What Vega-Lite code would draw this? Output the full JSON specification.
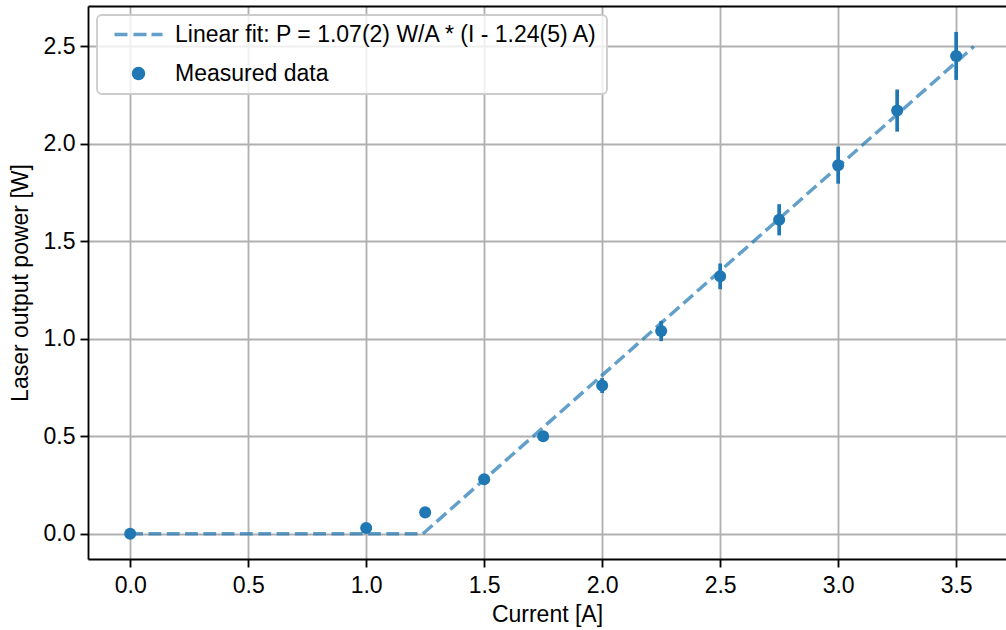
{
  "$schema": "https://vega.github.io/schema/vega-lite/v6.json",
  "width": 918,
  "height": 553,
  "autosize": {"type": "none"},
  "padding": {"left": 88, "top": 6, "right": 0, "bottom": 71},
  "background": "white",
  "config": {
    "view": {"stroke": null},
    "font": "Liberation Sans",
    "axis": {
      "labelFont": "Liberation Sans",
      "labelFontSize": 23,
      "labelColor": "black",
      "titleFont": "Liberation Sans",
      "titleFontSize": 23,
      "titleFontWeight": "normal",
      "titleColor": "black",
      "domainColor": "black",
      "domainWidth": 1.84,
      "tickColor": "black",
      "tickWidth": 1.84,
      "tickSize": 8,
      "gridColor": "#b0b0b0",
      "gridWidth": 1.84,
      "labelPadding": 5,
      "labelFlush": false,
      "labelOverlap": false
    },
    "legend": {
      "orient": "top-left",
      "offset": 9,
      "padding": 8,
      "fillColor": "rgba(255,255,255,0.8)",
      "strokeColor": "#cccccc",
      "strokeWidth": 1.84,
      "cornerRadius": 5,
      "labelFont": "Liberation Sans",
      "labelFontSize": 23,
      "labelColor": "black",
      "labelLimit": 800,
      "symbolSize": 180,
      "symbolOffset": 22,
      "labelOffset": 25,
      "rowPadding": 15,
      "symbolStrokeWidth": 0
    }
  },
  "datasets": {
    "meas": [
      {"I": 0.0, "P": 0.0, "lo": 0.0, "hi": 0.0, "series": "Measured data"},
      {"I": 1.0, "P": 0.03, "lo": 0.0285, "hi": 0.0315, "series": "Measured data"},
      {"I": 1.25, "P": 0.11, "lo": 0.1045, "hi": 0.1155, "series": "Measured data"},
      {"I": 1.5, "P": 0.28, "lo": 0.266, "hi": 0.294, "series": "Measured data"},
      {"I": 1.75, "P": 0.5, "lo": 0.475, "hi": 0.525, "series": "Measured data"},
      {"I": 2.0, "P": 0.76, "lo": 0.722, "hi": 0.798, "series": "Measured data"},
      {"I": 2.25, "P": 1.04, "lo": 0.988, "hi": 1.092, "series": "Measured data"},
      {"I": 2.5, "P": 1.32, "lo": 1.254, "hi": 1.386, "series": "Measured data"},
      {"I": 2.75, "P": 1.61, "lo": 1.53, "hi": 1.69, "series": "Measured data"},
      {"I": 3.0, "P": 1.89, "lo": 1.795, "hi": 1.985, "series": "Measured data"},
      {"I": 3.25, "P": 2.17, "lo": 2.062, "hi": 2.278, "series": "Measured data"},
      {"I": 3.5, "P": 2.45, "lo": 2.327, "hi": 2.573, "series": "Measured data"}
    ],
    "fit": [
      {"I": 0.0, "P": 0.0},
      {"I": 1.24, "P": 0.0},
      {"I": 3.575, "P": 2.498}
    ]
  },
  "layer": [
    {
      "data": {"name": "fit"},
      "mark": {"type": "line", "strokeDash": [12.8, 5.5], "strokeWidth": 3.45, "color": "#1f77b4", "opacity": 0.7},
      "encoding": {
        "x": {"field": "I", "type": "quantitative", "scale": {"domain": [-0.17875, 3.7112], "nice": false, "zero": false},
              "axis": {"orient": "top", "labels": false, "ticks": false, "grid": false, "domain": true, "title": null}},
        "y": {"field": "P", "type": "quantitative", "scale": {"domain": [-0.129, 2.706], "nice": false, "zero": false},
              "axis": {"values": [0, 0.5, 1.0, 1.5, 2.0, 2.5], "format": ".1f", "title": "Laser output power [W]", "titlePadding": 11, "grid": true}}
      }
    },
    {
      "data": {"name": "meas"},
      "mark": {"type": "rule", "strokeWidth": 3.7, "color": "#1f77b4"},
      "encoding": {
        "x": {"field": "I", "type": "quantitative",
              "axis": {"orient": "bottom", "values": [0, 0.5, 1.0, 1.5, 2.0, 2.5, 3.0, 3.5], "format": ".1f", "title": "Current [A]", "titlePadding": 6, "grid": true, "labelPadding": 7}},
        "y": {"field": "lo", "type": "quantitative"},
        "y2": {"field": "hi"}
      }
    },
    {
      "data": {"name": "meas"},
      "mark": {"type": "point", "filled": true, "size": 145, "opacity": 1},
      "encoding": {
        "x": {"field": "I", "type": "quantitative", "axis": null},
        "y": {"field": "P", "type": "quantitative"},
        "color": {
          "field": "series",
          "type": "nominal",
          "scale": {"domain": ["Linear fit: P = 1.07(2) W/A * (I - 1.24(5) A)", "Measured data"], "range": ["#62a0ca", "#1f77b4"]},
          "legend": {"title": null}
        },
        "shape": {
          "field": "series",
          "type": "nominal",
          "scale": {"domain": ["Linear fit: P = 1.07(2) W/A * (I - 1.24(5) A)", "Measured data"],
                    "range": ["M-3.58,-0.257H-1.64V0.257H-3.58Z M-0.746,-0.257H1.194V0.257H-0.746Z M1.94,-0.257H3.58V0.257H1.94Z", "circle"]},
          "legend": {"title": null}
        }
      }
    }
  ],
  "resolve": {"axis": {"x": "independent"}}
}
